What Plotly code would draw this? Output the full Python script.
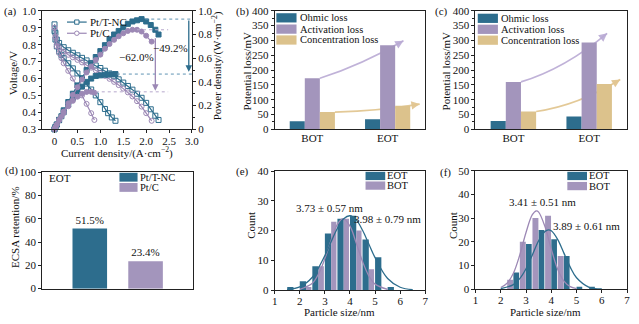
import plotly.graph_objects as go

W, H = 639, 324
FONT = "Liberation Serif"
TEAL = "#2d6d8d"
PURPLE = "#a395bc"
TAN = "#dcc28c"
PLINE = "#9c88b5"
AX = "#222222"
TXT = "#111111"

# ---------------- (a) polarization / power density ----------------
I_tnc_bot = [0.0, 0.02, 0.05, 0.1, 0.2, 0.3, 0.4, 0.5, 0.6, 0.7, 0.8, 0.9, 1.0, 1.1, 1.2, 1.3,
             1.4, 1.5, 1.6, 1.7, 1.8, 1.9, 2.0, 2.1, 2.2, 2.27]
V_tnc_bot = [0.92, 0.87, 0.83, 0.81, 0.785, 0.767, 0.752, 0.737, 0.722, 0.707, 0.692, 0.677, 0.662,
             0.646, 0.63, 0.613, 0.595, 0.576, 0.556, 0.534, 0.51, 0.486, 0.456, 0.418, 0.38, 0.355]
P_tnc_bot = [0.0, 0.02, 0.04, 0.08, 0.16, 0.23, 0.3, 0.37, 0.43, 0.5, 0.55, 0.61, 0.66, 0.71, 0.76,
             0.8, 0.83, 0.86, 0.89, 0.91, 0.92, 0.93, 0.91, 0.88, 0.84, 0.80]

I_c_bot = [0.0, 0.02, 0.05, 0.1, 0.2, 0.3, 0.4, 0.5, 0.6, 0.7, 0.8, 0.9, 1.0, 1.1, 1.2, 1.3, 1.4,
           1.5, 1.6, 1.7, 1.8, 1.9, 2.0, 2.12]
V_c_bot = [0.90, 0.85, 0.81, 0.785, 0.76, 0.74, 0.725, 0.71, 0.695, 0.68, 0.664, 0.648, 0.632,
           0.615, 0.598, 0.58, 0.561, 0.54, 0.518, 0.494, 0.466, 0.434, 0.395, 0.35]
P_c_bot = [0.0, 0.017, 0.04, 0.08, 0.15, 0.22, 0.29, 0.355, 0.42, 0.48, 0.53, 0.585, 0.63, 0.68,
           0.72, 0.755, 0.785, 0.81, 0.83, 0.84, 0.84, 0.825, 0.79, 0.74]

I_tnc_eot = [0.0, 0.02, 0.05, 0.1, 0.15, 0.2, 0.3, 0.4, 0.5, 0.6, 0.7, 0.8, 0.9, 1.0, 1.1, 1.17, 1.25, 1.33]
V_tnc_eot = [0.88, 0.83, 0.79, 0.76, 0.74, 0.72, 0.69, 0.66, 0.63, 0.60, 0.57, 0.535, 0.50, 0.46,
             0.42, 0.395, 0.37, 0.35]
P_tnc_eot = [0.0, 0.017, 0.04, 0.076, 0.11, 0.144, 0.207, 0.264, 0.315, 0.36, 0.4, 0.428, 0.45,
             0.455, 0.46, 0.462, 0.463, 0.466]

I_c_eot = [0.0, 0.02, 0.05, 0.1, 0.15, 0.2, 0.3, 0.4, 0.5, 0.6, 0.7, 0.8, 0.87]
V_c_eot = [0.90, 0.84, 0.79, 0.75, 0.72, 0.69, 0.645, 0.6, 0.55, 0.5, 0.45, 0.395, 0.355]
P_c_eot = [0.0, 0.017, 0.04, 0.075, 0.108, 0.138, 0.194, 0.24, 0.275, 0.3, 0.315, 0.316, 0.309]

a_xticks = [0, 0.5, 1.0, 1.5, 2.0, 2.5, 3.0]
a_xticklabels = ["0", "0.5", "1.0", "1.5", "2.0", "2.5", "3.0"]
a_y2ticks = [0, 0.2, 0.4, 0.6, 0.8, 1.0]
a_y2ticklabels = ["0", "0.2", "0.4", "0.6", "0.8", "1.0"]
drop_tnc = "−49.2%"
drop_c = "−62.0%"

# ---------------- (b), (c) potential losses ----------------
loss_cats = ["BOT", "EOT"]
loss_names = ["Ohmic loss", "Activation loss", "Concentration loss"]
ohmic_b = [27, 34]
act_b = [172, 284]
conc_b = [58, 79]
ohmic_c = [28, 43]
act_c = [160, 293]
conc_c = [60, 153]

# ---------------- (d) ECSA retention ----------------
ecsa_cats = ["Pt/T-NC", "Pt/C"]
ecsa_vals = [51.5, 23.4]

# ---------------- (e), (f) particle size histograms ----------------
bins_e = [1.75, 2.25, 2.75, 3.25, 3.75, 4.25, 4.75, 5.25, 5.75]
eot_e = [1, 3, 8, 19, 24, 25, 17, 11, 1]
bot_e = [0, 1, 8, 23, 24, 20, 7, 0, 0]
fit_x_eot_e = [1.5, 2.0, 2.5, 3.0, 3.25, 3.5, 3.75, 4.0, 4.25, 4.5, 4.75, 5.0, 5.5, 6.0, 6.5]
fit_y_eot_e = [0.2, 1.1, 4.3, 11.6, 16.3, 20.8, 24.0, 25.0, 23.6, 20.1, 15.5, 10.9, 3.9, 0.95, 0.15]
fit_x_bot_e = [2.0, 2.5, 2.75, 3.0, 3.25, 3.5, 3.73, 4.0, 4.25, 4.5, 4.75, 5.0, 5.5]
fit_y_bot_e = [0.24, 2.3, 5.5, 10.6, 16.8, 22.1, 24.0, 21.5, 15.8, 9.6, 4.8, 2.0, 0.2]
label_bot_e = "3.73 ± 0.57 nm"
label_eot_e = "3.98 ± 0.79 nm"

bins_f = [2.5, 3.0, 3.5, 4.0, 4.5, 5.0, 5.5]
bot_f = [4, 20, 30, 31, 14, 0, 0]
eot_f = [7, 19, 25, 21, 14, 1, 1]
fit_x_bot_f = [2.0, 2.25, 2.5, 2.75, 3.0, 3.25, 3.41, 3.5, 3.75, 4.0, 4.25, 4.5, 4.75, 5.0]
fit_y_bot_f = [0.7, 2.5, 6.7, 14.3, 23.9, 31.4, 33.0, 32.5, 26.4, 16.9, 8.5, 3.4, 1.05, 0.25]
fit_x_eot_f = [2.0, 2.5, 2.75, 3.0, 3.25, 3.5, 3.75, 3.89, 4.0, 4.25, 4.5, 4.75, 5.0, 5.5, 6.0]
fit_y_eot_f = [0.2, 1.9, 4.4, 8.6, 14.4, 20.4, 24.3, 25.0, 24.6, 21.0, 15.2, 9.3, 4.8, 0.77, 0.06]
label_bot_f = "3.41 ± 0.51 nm"
label_eot_f = "3.89 ± 0.61 nm"

# ===================================================================
fig = go.Figure()
shapes = []
annotations = []


def dx(x0, x1):
    return [x0 / W, x1 / W]


def dy(y0, y1):
    return [1 - y1 / H, 1 - y0 / H]


def ptext(txt, x, y, size=11, xanchor="center", yanchor="middle", angle=0):
    annotations.append(dict(text=txt, x=x / W, y=1 - y / H, xref="paper", yref="paper",
                            showarrow=False, xanchor=xanchor, yanchor=yanchor, textangle=angle,
                            borderpad=0,
                            font=dict(family=FONT, size=size, color=TXT)))


def prect(x0, y0, x1, y1, fill, line=None, kind="rect"):
    shapes.append(dict(type=kind, xref="paper", yref="paper", x0=x0 / W, x1=x1 / W,
                       y0=1 - y1 / H, y1=1 - y0 / H, fillcolor=fill,
                       line=dict(width=1 if line else 0, color=line or fill)))


def pline(x0, y0, x1, y1, color, width=1.2):
    shapes.append(dict(type="line", xref="paper", yref="paper", x0=x0 / W, x1=x1 / W,
                       y0=1 - y0 / H, y1=1 - y1 / H, line=dict(color=color, width=width)))


def curved_arrow(xa, ya, p0, c, p1, color, t=0.93):
    shapes.append(dict(type="path", xref=xa, yref=ya, layer="below",
                       path=f"M {p0[0]},{p0[1]} Q {c[0]},{c[1]} {p1[0]},{p1[1]}",
                       line=dict(color=color, width=1.6)))
    bx = (1 - t) ** 2 * p0[0] + 2 * t * (1 - t) * c[0] + t * t * p1[0]
    by = (1 - t) ** 2 * p0[1] + 2 * t * (1 - t) * c[1] + t * t * p1[1]
    annotations.append(dict(x=p1[0], y=p1[1], ax=bx, ay=by, xref=xa, yref=ya, axref=xa, ayref=ya,
                            showarrow=True, arrowhead=2, arrowsize=1.1, arrowwidth=1.5,
                            arrowcolor=color, text=""))


# ---------------- (a) traces ----------------
def add_curve(x, y, yaxis, color, symbol):
    fig.add_trace(go.Scatter(x=x, y=y, mode="lines+markers", xaxis="x", yaxis=yaxis,
                             line=dict(color=color, width=1.2),
                             marker=dict(symbol=symbol, size=5, color=color,
                                         line=dict(color=color, width=1)),
                             showlegend=False, cliponaxis=False))


add_curve(I_tnc_bot, V_tnc_bot, "y", TEAL, "square-open")
add_curve(I_tnc_eot, V_tnc_eot, "y", TEAL, "square-open")
add_curve(I_c_bot, V_c_bot, "y", PLINE, "circle-open")
add_curve(I_c_eot, V_c_eot, "y", PLINE, "circle-open")
add_curve(I_tnc_bot, P_tnc_bot, "y2", TEAL, "square")
add_curve(I_tnc_eot, P_tnc_eot, "y2", TEAL, "square")
add_curve(I_c_bot, P_c_bot, "y2", PLINE, "circle")
add_curve(I_c_eot, P_c_eot, "y2", PLINE, "circle")

pk_tnc_bot = max(P_tnc_bot)
pk_tnc_bot_x = I_tnc_bot[P_tnc_bot.index(pk_tnc_bot)]
pk_tnc_eot = max(P_tnc_eot)
pk_c_bot = max(P_c_bot)
pk_c_bot_x = I_c_bot[P_c_bot.index(pk_c_bot)]
pk_c_eot = max(P_c_eot)

dot_teal = "#5f93b3"
dot_purp = "#b7a8cc"
for x0, x1, yv, col in [(pk_tnc_bot_x + 0.08, 3.0, pk_tnc_bot, dot_teal),
                        (max(I_tnc_eot) + 0.03, 3.0, pk_tnc_eot, dot_teal),
                        (pk_c_bot_x + 0.1, 2.48, pk_c_bot, dot_purp),
                        (max(I_c_eot) + 0.03, 2.48, pk_c_eot, dot_purp)]:
    shapes.append(dict(type="line", xref="x", yref="y2", x0=x0, x1=x1, y0=yv, y1=yv,
                       line=dict(color=col, width=1, dash="dot")))

annotations.append(dict(x=2.93, y=pk_tnc_eot + 0.02, ax=2.93, ay=pk_tnc_bot, xref="x", yref="y2",
                        axref="x", ayref="y2", showarrow=True, arrowhead=2, arrowsize=1,
                        arrowwidth=1.3, arrowcolor=TEAL, text=""))
annotations.append(dict(x=2.2, y=pk_c_eot + 0.01, ax=2.2, ay=0.78, xref="x", yref="y2",
                        axref="x", ayref="y2", showarrow=True, arrowhead=2, arrowsize=1,
                        arrowwidth=1.3, arrowcolor=PLINE, text=""))
annotations.append(dict(x=2.53, y=0.69, xref="x", yref="y2", text=drop_tnc, showarrow=False,
                        font=dict(family=FONT, size=11, color=TXT)))
annotations.append(dict(x=1.78, y=0.61, xref="x", yref="y2", text=drop_c, showarrow=False,
                        font=dict(family=FONT, size=11, color=TXT)))

# (a) legend
pline(65, 16.7, 85, 16.7, TEAL)
prect(72.8, 14.5, 77.2, 18.9, "white", TEAL)
ptext("Pt/T-NC", 87, 16.7, xanchor="left")
pline(65, 28.3, 85, 28.3, PLINE)
prect(72.7, 26.0, 77.3, 30.6, "white", PLINE, kind="circle")
ptext("Pt/C", 87, 28.3, xanchor="left")

# ---------------- (b), (c) bars ----------------
pos = list(range(len(loss_cats)))
loss_colors = [TEAL, PURPLE, TAN]
for xa, ya, series in [("x2", "y3", [ohmic_b, act_b, conc_b]), ("x3", "y4", [ohmic_c, act_c, conc_c])]:
    for k, (vals, col) in enumerate(zip(series, loss_colors)):
        fig.add_trace(go.Bar(x=pos, y=vals, width=0.2, offset=-0.3 + 0.2 * k, marker_color=col,
                             marker_line_width=0, xaxis=xa, yaxis=ya, showlegend=False))

ARR_P = "rgba(185,170,212,0.9)"
ARR_T = "rgba(226,198,145,0.95)"
curved_arrow("x2", "y3", (pos[0] + 0.1, act_b[0]), (0.66, 218), (1.21, 299), ARR_P)
curved_arrow("x2", "y3", (pos[0] + 0.3, conc_b[0]), (0.9, 62), (1.425, 85), ARR_T)
curved_arrow("x3", "y4", (pos[0] + 0.1, act_c[0]), (0.68, 205), (1.237, 324), ARR_P)
curved_arrow("x3", "y4", (pos[0] + 0.3, conc_c[0]), (0.85, 80), (1.41, 168), ARR_T)

# legends (b), (c)
for lx, rows in [(277.7, [12.3, 24.0, 35.3]), (482.3, [12.8, 24.2, 35.5])]:
    for name, col, yc in zip(loss_names, loss_colors, rows):
        prect(lx, yc - 4.8, lx + 20.5, yc + 4.8, col)
        ptext(name, lx + 23, yc, xanchor="left", size=10.5)

# ---------------- (d) ECSA ----------------
ecsa_pos = list(range(len(ecsa_cats)))
fig.add_trace(go.Bar(x=ecsa_pos, y=ecsa_vals, width=0.62, offset=-0.31,
                     marker_color=[TEAL, PURPLE], marker_line_width=0,
                     texttemplate="%{y:.1f}%", textposition="outside",
                     textfont=dict(family=FONT, size=11, color=TXT), cliponaxis=False,
                     xaxis="x4", yaxis="y5", showlegend=False))
ptext("EOT", 46, 178.3, xanchor="left")
for name, col, yc in zip(ecsa_cats, [TEAL, PURPLE], [177.8, 188.4]):
    prect(118.3, yc - 4.6, 136.7, yc + 4.6, col)
    ptext(name, 138.5, yc, xanchor="left", size=10.5)

# ---------------- (e), (f) histograms ----------------
fig.add_trace(go.Bar(x=bins_e, y=eot_e, width=0.25, offset=-0.25, marker_color=TEAL,
                     marker_line_width=0, xaxis="x5", yaxis="y6", showlegend=False))
fig.add_trace(go.Bar(x=bins_e, y=bot_e, width=0.21, offset=0.0, marker_color=PURPLE,
                     marker_line_width=0, xaxis="x5", yaxis="y6", showlegend=False))
fig.add_trace(go.Scatter(x=fit_x_bot_e, y=fit_y_bot_e, mode="lines", line=dict(color=PLINE, width=1.3, shape="spline"),
                         xaxis="x5", yaxis="y6", showlegend=False))
fig.add_trace(go.Scatter(x=fit_x_eot_e, y=fit_y_eot_e, mode="lines", line=dict(color=TEAL, width=1.3, shape="spline"),
                         xaxis="x5", yaxis="y6", showlegend=False))

fig.add_trace(go.Bar(x=bins_f, y=bot_f, width=0.235, offset=-0.245, marker_color=PURPLE,
                     marker_line_width=0, xaxis="x6", yaxis="y7", showlegend=False))
fig.add_trace(go.Bar(x=bins_f, y=eot_f, width=0.225, offset=0.0, marker_color=TEAL,
                     marker_line_width=0, xaxis="x6", yaxis="y7", showlegend=False))
fig.add_trace(go.Scatter(x=fit_x_bot_f, y=fit_y_bot_f, mode="lines", line=dict(color=PLINE, width=1.3, shape="spline"),
                         xaxis="x6", yaxis="y7", showlegend=False))
fig.add_trace(go.Scatter(x=fit_x_eot_f, y=fit_y_eot_f, mode="lines", line=dict(color=TEAL, width=1.3, shape="spline"),
                         xaxis="x6", yaxis="y7", showlegend=False))

for xa, ya, txt, x, y in [("x5", "y6", label_bot_e, 3.2, 27.6), ("x5", "y6", label_eot_e, 5.48, 23.8),
                          ("x6", "y7", label_bot_f, 3.64, 36.6), ("x6", "y7", label_eot_f, 5.38, 26.8)]:
    annotations.append(dict(x=x, y=y, xref=xa, yref=ya, text=txt, showarrow=False,
                            font=dict(family=FONT, size=11, color=TXT)))

for lx, rows in [(368.3, [(TEAL, "EOT", 176.5), (PURPLE, "BOT", 186.5)]),
                 (573.3, [(TEAL, "EOT", 176.5), (PURPLE, "BOT", 187.0)])]:
    for col, name, yc in rows:
        prect(lx, yc - 4.3, lx + 20, yc + 4.3, col)
        ptext(name, lx + 21, yc, xanchor="left", size=10.5)

# ---------------- titles & panel labels ----------------
ptext("Voltage/V", 11, 70, angle=-90)
ptext("Current density/(A·cm<sup>−2</sup>)", 116, 143.5, yanchor="top")
ptext("Power density/(W·cm<sup>−2</sup>)", 218, 62, angle=-90)
ptext("Potential loss/mV", 248, 68, angle=-90)
ptext("Potential loss/mV", 450, 67, angle=-90)
ptext("ECSA retention/%", 12.7, 230, angle=-90)
ptext("Count", 251.7, 227.5, angle=-90)
ptext("Count", 456.7, 228, angle=-90)
ptext("Particle size/nm", 342, 317.5)
ptext("Particle size/nm", 551, 317.5)
for lab, x, y in [("(a)", 7.5, 6), ("(b)", 243, 5.5), ("(c)", 445, 6), ("(d)", 8.7, 170.7),
                  ("(e)", 243.3, 171.7), ("(f)", 450, 173)]:
    ptext(lab, x, y)

# ---------------- axes ----------------
base = dict(showline=True, linecolor=AX, linewidth=1.1, mirror=True, ticks="outside", ticklen=3,
            tickwidth=1, tickcolor=AX, showgrid=False, zeroline=False, fixedrange=True,
            tickfont=dict(family=FONT, size=11, color=TXT))
xbase = dict(base, ticklabelstandoff=-2)

layout = dict(
    width=W, height=H, margin=dict(l=0, r=0, t=0, b=0), showlegend=False,
    paper_bgcolor="white", plot_bgcolor="white", barmode="overlay",
    xaxis=dict(xbase, domain=dx(40, 192), range=[-0.265, 3.0], tickvals=a_xticks,
               ticktext=a_xticklabels, anchor="y"),
    yaxis=dict(base, domain=dy(5, 128), range=[0.3, 1.0], dtick=0.1, tickformat=".1f",
               anchor="x", mirror=False,
               minor=dict(ticks="outside", ticklen=2, dtick=0.05, tickcolor=AX)),
    yaxis2=dict(base, overlaying="y", side="right", range=[0, 1.0], tickvals=a_y2ticks,
                ticktext=a_y2ticklabels, anchor="x", mirror=False,
                minor=dict(ticks="outside", ticklen=2, dtick=0.1, tickcolor=AX)),
    xaxis2=dict(xbase, domain=dx(276, 429), range=[-0.5, 1.5], tickvals=pos, ticktext=loss_cats,
                ticks="", anchor="y3"),
    yaxis3=dict(base, domain=dy(5, 128), range=[0, 400], dtick=50, anchor="x2",
                minor=dict(ticks="outside", ticklen=2, dtick=25, tickcolor=AX)),
    xaxis3=dict(xbase, domain=dx(480, 634), range=[-0.5, 1.5], tickvals=pos, ticktext=loss_cats,
                ticks="", anchor="y4"),
    yaxis4=dict(base, domain=dy(5, 128), range=[0, 400], dtick=50, anchor="x3",
                minor=dict(ticks="outside", ticklen=2, dtick=25, tickcolor=AX)),
    xaxis4=dict(base, domain=dx(40, 193), range=[-0.85, 1.85], showticklabels=False, ticks="",
                anchor="y5"),
    yaxis5=dict(base, domain=dy(172.5, 293.5), range=[0, 100], dtick=20, anchor="x4"),
    xaxis5=dict(xbase, domain=dx(276, 429), range=[1, 7], dtick=1, anchor="y6"),
    yaxis6=dict(base, domain=dy(171.5, 295), range=[0, 40], dtick=10, anchor="x5"),
    xaxis6=dict(xbase, domain=dx(480, 634), range=[1, 7], dtick=1, anchor="y7"),
    yaxis7=dict(base, domain=dy(171, 294), range=[0, 50], dtick=10, anchor="x6"),
    shapes=shapes, annotations=annotations,
)
fig.update_layout(**layout)
fig.write_html("out.html")
